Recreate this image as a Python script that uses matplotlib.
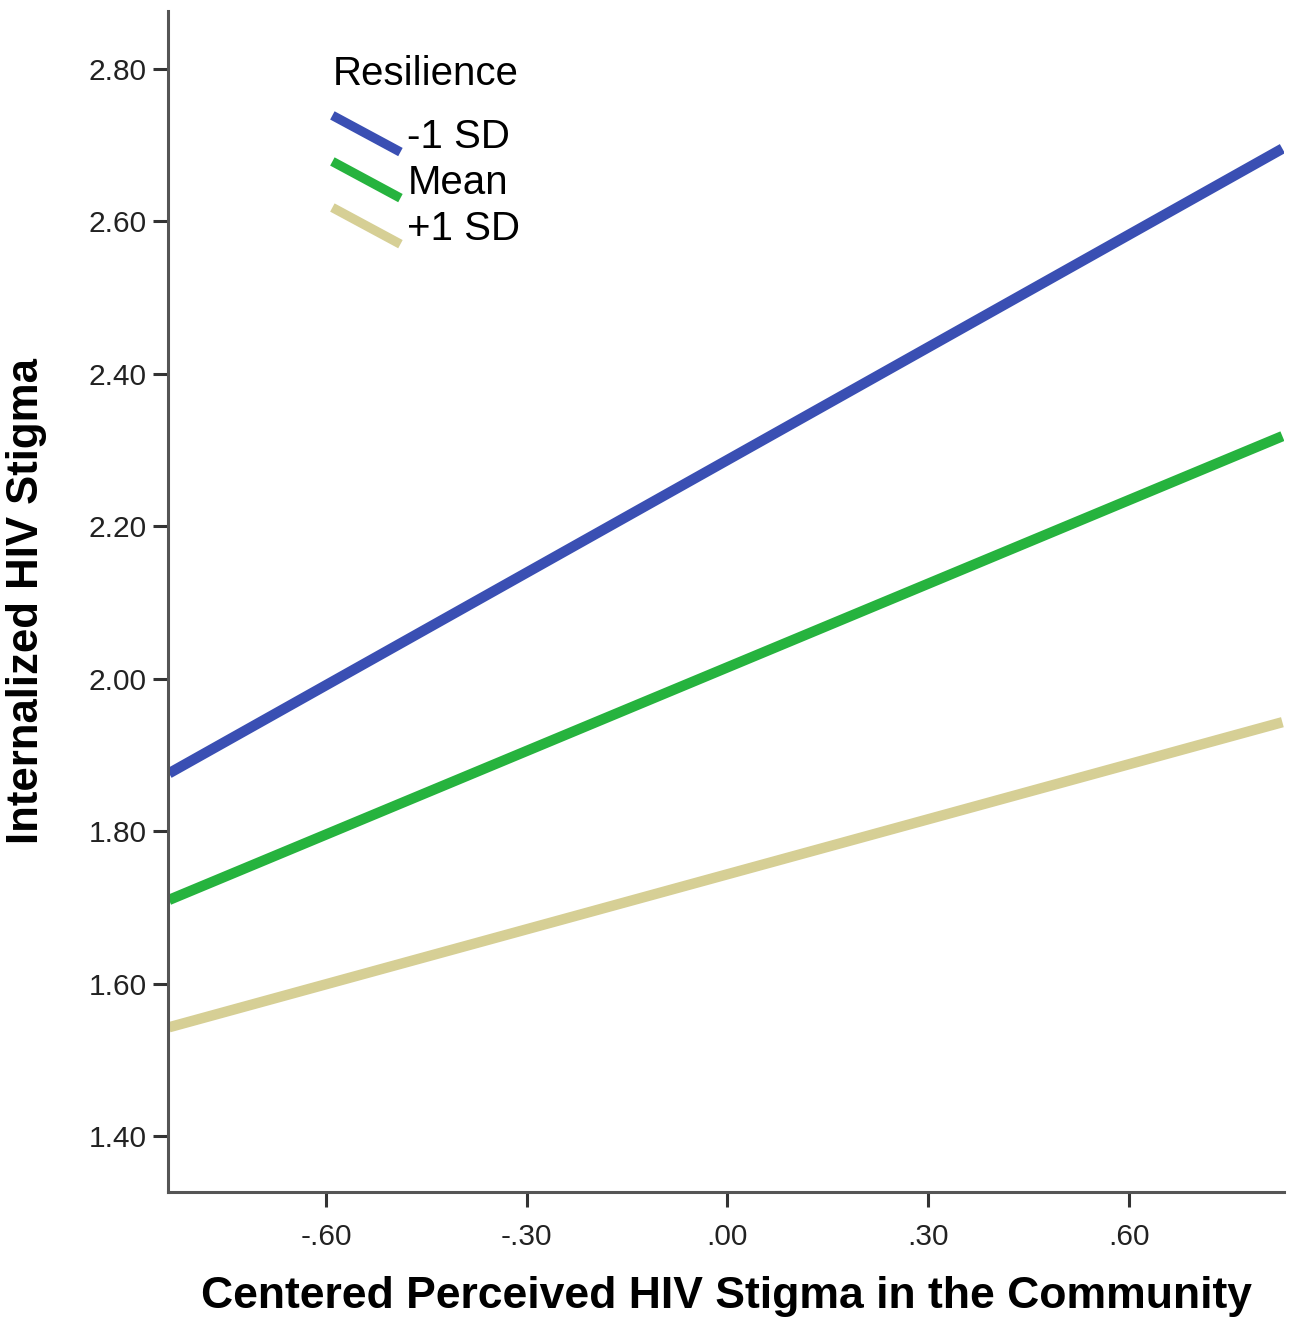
import matplotlib
matplotlib.use("Agg")
import matplotlib.pyplot as plt
from matplotlib.legend_handler import HandlerLine2D
from matplotlib.lines import Line2D

# Data
x_vals = [-0.835, 0.83]
series_names = ["-1 SD", "Mean", "+1 SD"]
low_vals = [1.876, 2.695]
mean_vals = [1.710, 2.318]
high_vals = [1.543, 1.943]
x_ticks = [-0.60, -0.30, 0.00, 0.30, 0.60]
x_tick_labels = ["-.60", "-.30", ".00", ".30", ".60"]
y_ticks = [1.40, 1.60, 1.80, 2.00, 2.20, 2.40, 2.60, 2.80]
y_tick_labels = ["1.40", "1.60", "1.80", "2.00", "2.20", "2.40", "2.60", "2.80"]

colors = ["#3a4fb3", "#26b33e", "#d6cf95"]

plt.rcParams['font.family'] = ['Liberation Sans Narrow', 'Liberation Sans', 'DejaVu Sans']

fig = plt.figure(figsize=(13, 13.23), dpi=100)
ax = fig.add_axes([0.129, 0.099, 0.859, 0.893])

for vals, c, name in zip([low_vals, mean_vals, high_vals], colors, series_names):
    ax.plot(x_vals, vals, color=c, lw=7.5, solid_capstyle='butt', label=name)

ax.set_xlim(-0.837, 0.833)
ax.set_ylim(1.327, 2.876)
ax.set_xticks(x_ticks)
ax.set_xticklabels(x_tick_labels)
ax.set_yticks(y_ticks)
ax.set_yticklabels(y_tick_labels)

for s in ['top', 'right']:
    ax.spines[s].set_visible(False)
for s in ['left', 'bottom']:
    ax.spines[s].set_color('#555555')
    ax.spines[s].set_linewidth(2.2)

ax.tick_params(axis='both', direction='out', length=11, width=2.2, color='#333333',
               labelsize=21.5, labelcolor='#222222')
ax.tick_params(axis='x', pad=11)
ax.tick_params(axis='y', pad=4)

ax.set_xlabel("Centered Perceived HIV Stigma in the Community", fontsize=32,
              fontweight='bold', family=['Liberation Sans', 'DejaVu Sans'], labelpad=18)
ax.set_ylabel("Internalized HIV Stigma", fontsize=31.5, fontweight='bold',
              family=['Liberation Sans', 'DejaVu Sans'], labelpad=30)


class DiagHandler(HandlerLine2D):
    def create_artists(self, legend, orig_handle, xdescent, ydescent, width, height, fontsize, trans):
        line = Line2D([-xdescent, -xdescent + width],
                      [height * 1.15, -height * 0.15],
                      color=orig_handle.get_color(), lw=orig_handle.get_linewidth() * 0.9,
                      solid_capstyle='butt')
        line.set_transform(trans)
        return [line]


fs_leg = 29
leg = ax.legend(handler_map={Line2D: DiagHandler()}, title="Resilience",
                loc='upper left', bbox_to_anchor=(0.115, 0.993), frameon=False,
                prop={'family': ['Liberation Sans', 'DejaVu Sans'], 'size': fs_leg},
                handlelength=1.69, handletextpad=0.17, labelspacing=0.2,
                title_fontproperties={'family': ['Liberation Sans', 'DejaVu Sans'], 'size': fs_leg})
leg._legend_box.align = 'left'
leg._legend_box.sep = 0.2 * fs_leg + 12

fig.savefig("out.png", dpi=100, facecolor='white')
